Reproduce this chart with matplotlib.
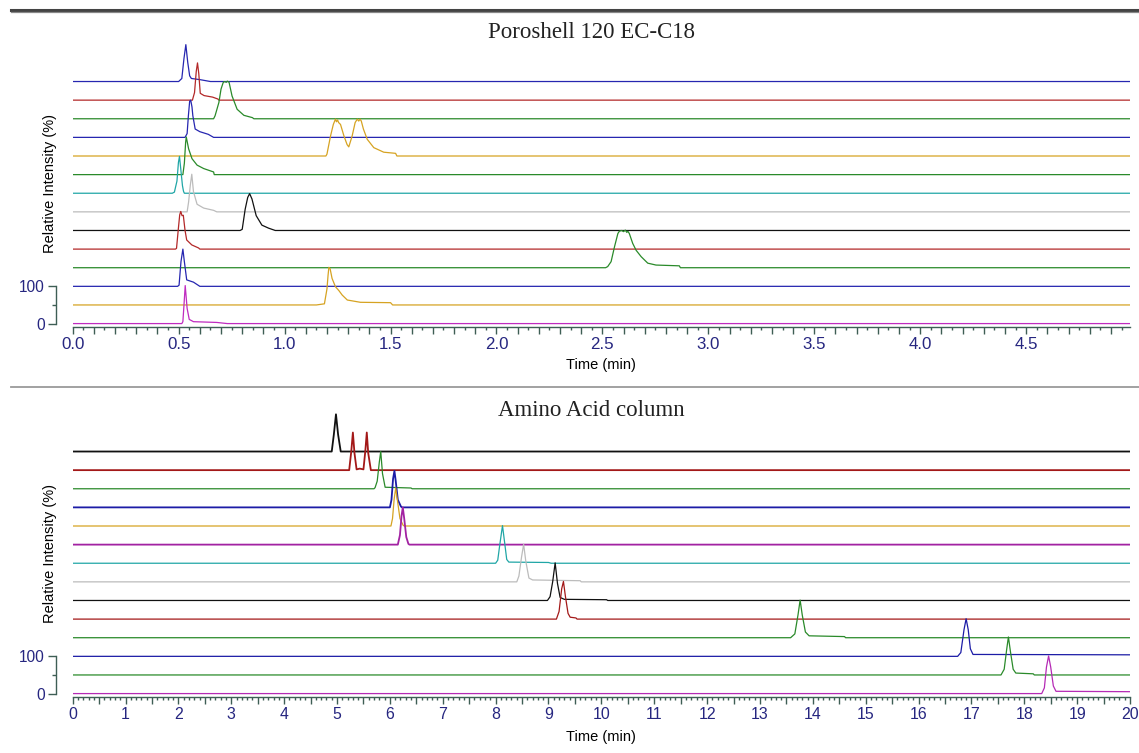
import matplotlib
matplotlib.use("Agg")
import matplotlib.pyplot as plt
import numpy as np
from matplotlib.lines import Line2D
from matplotlib.ticker import FixedLocator, FuncFormatter, MultipleLocator

# Peak outlines: (time in min, relative intensity %)
# listed from the top trace down; the baseline is 0 outside the listed points
top_colors = ["#2626b0", "#b32828", "#2a8a2a", "#2626b0", "#d6a322", "#2a8a2a", "#20a6a6",
              "#bcbcbc", "#111111", "#b32828", "#2a8a2a", "#2626b0", "#d6a322", "#c02bc0"]
top_peaks = [
    [(0.50, 0), (0.515, 8), (0.525, 60), (0.534, 97), (0.543, 50), (0.552, 15), (0.56, 8), (0.60, 5), (0.63, 2), (0.65, 0)],
    [(0.565, 0), (0.575, 20), (0.583, 75), (0.589, 98), (0.595, 70), (0.602, 18), (0.62, 12), (0.66, 8), (0.685, 3), (0.69, 0)],
    [(0.665, 0), (0.672, 8), (0.69, 43), (0.70, 78), (0.71, 95), (0.716, 98), (0.725, 96), (0.73, 99), (0.738, 96),
     (0.752, 60), (0.776, 25), (0.808, 9), (0.848, 3), (0.855, 0)],
    [(0.53, 0), (0.54, 10), (0.546, 57), (0.552, 95), (0.557, 98), (0.563, 80), (0.567, 57), (0.578, 22), (0.60, 15),
     (0.64, 8), (0.665, 0)],
    [(1.195, 0), (1.20, 5), (1.217, 53), (1.23, 83), (1.24, 97), (1.245, 90), (1.25, 95), (1.255, 88), (1.264, 83),
     (1.28, 53), (1.295, 30), (1.303, 24), (1.319, 53), (1.333, 88), (1.343, 97), (1.35, 92), (1.356, 97), (1.362, 92),
     (1.372, 71), (1.39, 44), (1.421, 22), (1.468, 10), (1.524, 7), (1.53, 0)],
    [(0.52, 0), (0.527, 30), (0.533, 85), (0.536, 99), (0.541, 85), (0.547, 68), (0.563, 42), (0.587, 25), (0.618, 16),
     (0.665, 7), (0.668, 0)],
    [(0.47, 0), (0.48, 3), (0.492, 32), (0.499, 81), (0.504, 97), (0.51, 64), (0.518, 20), (0.523, 5), (0.527, 0)],
    [(0.54, 0), (0.547, 26), (0.555, 70), (0.562, 99), (0.57, 53), (0.587, 20), (0.618, 10), (0.665, 4), (0.68, 0)],
    [(0.79, 0), (0.80, 3), (0.814, 56), (0.826, 87), (0.835, 97), (0.846, 83), (0.866, 39), (0.893, 14), (0.925, 6), (0.956, 0)],
    [(0.485, 0), (0.49, 2), (0.498, 50), (0.505, 90), (0.51, 99), (0.516, 88), (0.522, 89), (0.53, 50), (0.538, 24),
     (0.562, 11), (0.594, 3), (0.60, 0)],
    [(2.515, 0), (2.525, 3), (2.541, 16), (2.557, 55), (2.573, 90), (2.58, 96), (2.59, 98), (2.60, 95), (2.608, 99),
     (2.615, 93), (2.62, 96), (2.627, 90), (2.643, 64), (2.659, 46), (2.683, 29), (2.714, 12), (2.753, 7), (2.863, 5), (2.868, 0)],
    [(0.495, 0), (0.502, 3), (0.511, 65), (0.52, 98), (0.527, 65), (0.538, 17), (0.57, 11), (0.60, 0)],
    [(1.15, 0), (1.188, 3), (1.20, 42), (1.205, 77), (1.209, 99), (1.215, 95), (1.224, 70), (1.24, 48), (1.256, 38),
     (1.272, 26), (1.296, 13), (1.358, 7), (1.50, 6), (1.51, 0)],
    [(0.515, 0), (0.52, 5), (0.525, 47), (0.531, 100), (0.54, 40), (0.55, 11), (0.57, 5), (0.68, 3), (0.73, 0)],
]

bottom_colors = ["#111111", "#a31818", "#2a8a2a", "#1c1ca6", "#d6a322", "#a222a2", "#20a6a6",
                 "#bcbcbc", "#111111", "#a31818", "#2a8a2a", "#1c1ca6", "#2a8a2a", "#b52ab5"]
bottom_peaks = [
    [(4.90, 0), (4.94, 45), (4.98, 98), (5.02, 45), (5.07, 0)],
    [(5.23, 0), (5.27, 50), (5.30, 99), (5.33, 45), (5.37, 2), (5.43, 4), (5.50, 2), (5.535, 50), (5.563, 99),
     (5.59, 45), (5.64, 0)],
    [(5.70, 0), (5.72, 3), (5.76, 20), (5.80, 70), (5.827, 98), (5.86, 40), (5.91, 4), (6.40, 2), (6.42, 0)],
    [(6.0, 0), (6.03, 20), (6.06, 75), (6.086, 96), (6.11, 70), (6.15, 20), (6.21, 2), (6.23, 0)],
    [(6.02, 0), (6.05, 20), (6.08, 70), (6.11, 100), (6.14, 70), (6.19, 20), (6.25, 2), (6.27, 0)],
    [(6.15, 0), (6.19, 25), (6.22, 75), (6.244, 98), (6.27, 70), (6.31, 20), (6.35, 2), (6.37, 0)],
    [(8.0, 0), (8.04, 8), (8.08, 50), (8.13, 99), (8.17, 55), (8.21, 10), (8.25, 3), (9.0, 2), (9.05, 0)],
    [(8.40, 0), (8.44, 15), (8.49, 65), (8.53, 99), (8.57, 55), (8.63, 10), (8.70, 5), (9.6, 3), (9.62, 0)],
    [(8.98, 0), (9.03, 10), (9.08, 50), (9.126, 99), (9.17, 45), (9.22, 8), (9.30, 3), (10.1, 2), (10.12, 0)],
    [(9.15, 0), (9.20, 20), (9.25, 80), (9.283, 99), (9.32, 60), (9.37, 15), (9.41, 5), (9.52, 3), (9.54, 0)],
    [(13.58, 0), (13.66, 10), (13.72, 60), (13.76, 99), (13.80, 60), (13.86, 15), (13.93, 5), (14.6, 3), (14.62, 0)],
    [(16.74, 0), (16.80, 10), (16.86, 70), (16.90, 99), (16.94, 70), (16.98, 20), (17.03, 5), (20.0, 4)],
    [(17.56, 0), (17.62, 15), (17.67, 70), (17.70, 100), (17.74, 60), (17.79, 15), (17.84, 5), (18.17, 3), (18.19, 0)],
    [(18.33, 0), (18.38, 15), (18.42, 70), (18.46, 99), (18.50, 70), (18.55, 20), (18.60, 6), (20.0, 5)],
]
# traces with a busy, noisy baseline look heavier in the original
bottom_heavy = [0, 1, 3, 5]

offset_step = 49
W, H = 1139, 753
spine_color = "#3e5e55"
label_color = "#262680"

fig = plt.figure(figsize=(W / 100, H / 100), dpi=100)


def add_panel(y_bottom_px, xmax, peaks, colors, heavy, major, minor, label_every, fmt, title, title_y, xlab_y, tick_fs):
    ax = fig.add_axes([72.7 / W, (H - y_bottom_px) / H, (1130 - 72.7) / W, 287 / H])
    n = len(peaks)
    for i, (pts, c) in enumerate(zip(peaks, colors)):
        t = np.array([0.0] + [p[0] for p in pts] + [xmax])
        h = np.array([0.0] + [p[1] for p in pts] + [pts[-1][1]])
        lw = 1.3 if i in heavy else 0.9
        ax.plot(t, h + (n - 1 - i) * offset_step, color=c, lw=lw, solid_joinstyle="round")
    ax.set_xlim(0, xmax)
    ax.set_ylim(-9, -9 + 287 / 0.38)
    for s in ["top", "right"]:
        ax.spines[s].set_visible(False)
    ax.spines["left"].set_position(("outward", 12))
    ax.spines["left"].set_bounds(0, 100)
    ax.spines["bottom"].set_bounds(0, xmax)
    for s in ["left", "bottom"]:
        ax.spines[s].set_color(spine_color)
        ax.spines[s].set_linewidth(1.0)
    ax.yaxis.set_major_locator(FixedLocator([0, 100]))
    ax.yaxis.set_minor_locator(FixedLocator([50]))
    ax.xaxis.set_major_locator(MultipleLocator(major))
    ax.xaxis.set_minor_locator(MultipleLocator(minor))
    ax.xaxis.set_major_formatter(FuncFormatter(
        lambda v, p: fmt.format(v) if abs(v / label_every - round(v / label_every)) < 1e-6 else ""))
    ax.tick_params(axis="x", which="major", length=5, width=1, color=spine_color, labelcolor=label_color,
                   labelsize=tick_fs, pad=2)
    ax.tick_params(axis="x", which="minor", length=2.2, width=1, color=spine_color)
    ax.tick_params(axis="y", which="major", length=5.8, width=1, color=spine_color, labelcolor=label_color,
                   labelsize=11.2, pad=2.5)
    ax.tick_params(axis="y", which="minor", length=3, width=1, color=spine_color)
    fig.text(50 / W, 1 - (y_bottom_px - 143.5) / H, "Relative Intensity (%)", rotation=90,
             ha="center", va="center", fontsize=10.5, color="black")
    fig.text(601 / W, 1 - xlab_y / H, "Time (min)", ha="center", va="center", fontsize=10.5, color="black")
    fig.text(591 / W, 1 - title_y / H, title, ha="center", va="center", fontsize=16.5,
             family="Liberation Serif", color="#222222")
    return ax


plt.rcParams["font.family"] = ["Liberation Sans", "DejaVu Sans"]

add_panel(327, 4.99, top_peaks, top_colors, [], 0.1, 0.05, 0.5, "{:.1f}",
          "Poroshell 120 EC-C18", 32, 365, 12.2)
add_panel(697, 20.0, bottom_peaks, bottom_colors, bottom_heavy, 0.5, 0.1, 1.0, "{:.0f}",
          "Amino Acid column", 411, 737, 11.4)

# rule lines across the page
fig.add_artist(Line2D([11 / W, 1], [1 - 9.5 / H, 1 - 9.5 / H], color="#444444", lw=2.2))
fig.add_artist(Line2D([11 / W, 1], [1 - 12.3 / H, 1 - 12.3 / H], color="#888888", lw=0.9))
fig.add_artist(Line2D([11 / W, 1], [1 - 387.3 / H, 1 - 387.3 / H], color="#9a9a9a", lw=1.3))

fig.savefig("out.png", dpi=100)
